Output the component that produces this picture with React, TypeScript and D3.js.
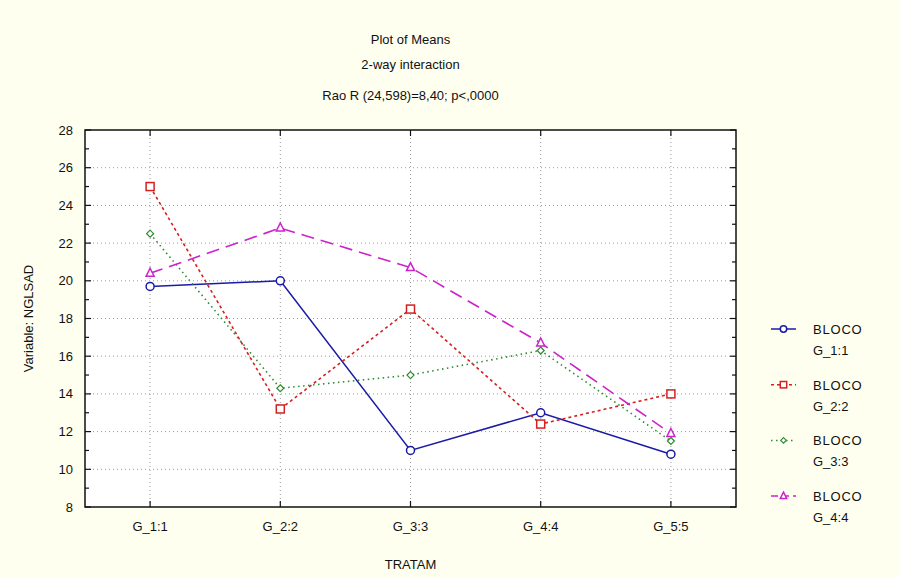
import React from 'react';
import * as d3 from 'd3';

// categories on the x axis (TRATAM)
const categories = ['G_1:1', 'G_2:2', 'G_3:3', 'G_4:4', 'G_5:5'];

// means per BLOCO
const bloco1 = [19.7, 20.0, 11.0, 13.0, 10.8];
const bloco2 = [25.0, 13.2, 18.5, 12.4, 14.0];
const bloco3 = [22.5, 14.3, 15.0, 16.3, 11.5];
const bloco4 = [20.4, 22.8, 20.7, 16.7, 11.9];

const seriesNames = ['G_1:1', 'G_2:2', 'G_3:3', 'G_4:4'];
const yTicks = [8, 10, 12, 14, 16, 18, 20, 22, 24, 26, 28];

const titleLines = ['Plot of Means', '2-way interaction', 'Rao R (24,598)=8,40; p<,0000'];

const width = 900, height = 577;
const plot = { left: 85, right: 736, top: 130, bottom: 507 };
const font = '"Liberation Sans", Arial, sans-serif';

// per-series look: colour, dash pattern, marker
const styles = [
  { color: '#1a1aa6', dash: null, marker: 'circle' },
  { color: '#d42020', dash: '3,3', marker: 'square' },
  { color: '#2e8b2e', dash: '1.5,3.5', marker: 'diamond' },
  { color: '#cc22cc', dash: '13,7', marker: 'triangle' },
];

const Marker = ({ type, x, y, color, s = 1 }: { type: string; x: number; y: number; color: string; s?: number }) => {
  if (type === 'circle') return <circle cx={x} cy={y} r={4 * s} fill="white" stroke={color} strokeWidth={1.5} />;
  if (type === 'square') return <rect x={x - 4 * s} y={y - 4 * s} width={8 * s} height={8 * s} fill="white" stroke={color} strokeWidth={1.5} />;
  if (type === 'diamond') return <path d={`M${x},${y - 3.5 * s}L${x + 3.5 * s},${y}L${x},${y + 3.5 * s}L${x - 3.5 * s},${y}Z`} fill="white" stroke={color} strokeWidth={1.2} />;
  return <path d={`M${x},${y - 5 * s}L${x + 4 * s},${y + 3 * s}L${x - 4 * s},${y + 3 * s}Z`} fill="white" stroke={color} strokeWidth={1.5} />;
};

export default function App() {
  const allSeries = [bloco1, bloco2, bloco3, bloco4];

  const xScale = d3.scalePoint<string>()
    .domain(categories)
    .range([plot.left, plot.right])
    .padding(0.5);

  const yScale = d3.scaleLinear()
    .domain([8, 28])
    .range([plot.bottom, plot.top]);

  const line = d3.line<number>()
    .x((_, i) => xScale(categories[i]) as number)
    .y(d => yScale(d));

  const minorTicks = d3.range(8, 29, 1);

  return (
    <svg width={width} height={height} style={{ position: 'absolute', left: 0, top: 0, background: '#fffff0' }}>
      <rect x={0} y={0} width={width} height={height} fill="#fffff0" />
      {/* titles */}
      {titleLines.map((t, i) => (
        <text key={t} x={(plot.left + plot.right) / 2} y={[44, 69, 100][i]} textAnchor="middle" fontFamily={font} fontSize={13} fill="#111">{t}</text>
      ))}

      <rect x={plot.left} y={plot.top} width={plot.right - plot.left} height={plot.bottom - plot.top} fill="white" />

      {/* dotted grid */}
      {yTicks.slice(1, -1).map(v => (
        <line key={`gy${v}`} x1={plot.left} x2={plot.right} y1={yScale(v)} y2={yScale(v)} stroke="#9a9a9a" strokeWidth={1} strokeDasharray="1,3" />
      ))}
      {categories.map(c => (
        <line key={`gx${c}`} x1={xScale(c)} x2={xScale(c)} y1={plot.top} y2={plot.bottom} stroke="#9a9a9a" strokeWidth={1} strokeDasharray="1,3" />
      ))}

      {/* series */}
      {allSeries.map((s, k) => (
        <path key={`l${k}`} d={line(s) || ''} fill="none" stroke={styles[k].color} strokeWidth={k === 0 ? 1.5 : 1.6} strokeDasharray={styles[k].dash || undefined} />
      ))}
      {allSeries.map((s, k) => s.map((v, i) => (
        <Marker key={`m${k}-${i}`} type={styles[k].marker} x={xScale(categories[i]) as number} y={yScale(v)} color={styles[k].color} />
      )))}

      {/* frame */}
      <rect x={plot.left} y={plot.top} width={plot.right - plot.left} height={plot.bottom - plot.top} fill="none" stroke="#111" strokeWidth={1.5} />

      {/* y ticks, inside on both sides */}
      {minorTicks.map(v => {
        const len = v % 2 === 0 ? 6 : 4;
        return (
          <g key={`t${v}`}>
            <line x1={plot.left} x2={plot.left + len} y1={yScale(v)} y2={yScale(v)} stroke="#111" strokeWidth={1.2} />
            <line x1={plot.right} x2={plot.right - len} y1={yScale(v)} y2={yScale(v)} stroke="#111" strokeWidth={1.2} />
          </g>
        );
      })}
      {categories.map(c => (
        <g key={`xt${c}`}>
          <line x1={xScale(c)} x2={xScale(c)} y1={plot.bottom} y2={plot.bottom - 6} stroke="#111" strokeWidth={1.2} />
          <line x1={xScale(c)} x2={xScale(c)} y1={plot.top} y2={plot.top + 6} stroke="#111" strokeWidth={1.2} />
        </g>
      ))}

      {/* tick labels */}
      {yTicks.map(v => (
        <text key={`yl${v}`} x={73} y={yScale(v) + 4.5} textAnchor="end" fontFamily={font} fontSize={13} fill="#111">{v}</text>
      ))}
      {categories.map(c => (
        <text key={`xl${c}`} x={xScale(c)} y={531} textAnchor="middle" fontFamily={font} fontSize={13} fill="#111">{c}</text>
      ))}

      {/* axis titles */}
      <text transform={`translate(33, ${(plot.top + plot.bottom) / 2}) rotate(-90)`} textAnchor="middle" fontFamily={font} fontSize={13} fill="#111">Variable: NGLSAD</text>
      <text x={(plot.left + plot.right) / 2} y={569} textAnchor="middle" fontFamily={font} fontSize={13} fill="#111">TRATAM</text>

      {/* legend */}
      {seriesNames.map((n, k) => {
        const y = 329 + k * 55.7;
        return (
          <g key={`lg${n}`}>
            <line x1={771} x2={796} y1={y} y2={y} stroke={styles[k].color} strokeWidth={1.5} strokeDasharray={k === 3 ? '7,4' : styles[k].dash || undefined} />
            <Marker type={styles[k].marker} x={783.5} y={y} color={styles[k].color} s={0.8} />
            <text x={813} y={y + 5} fontFamily={font} fontSize={13} fill="#111" letterSpacing={0.8}>BLOCO</text>
            <text x={813} y={y + 26} fontFamily={font} fontSize={13} fill="#111">{n}</text>
          </g>
        );
      })}
    </svg>
  );
}
